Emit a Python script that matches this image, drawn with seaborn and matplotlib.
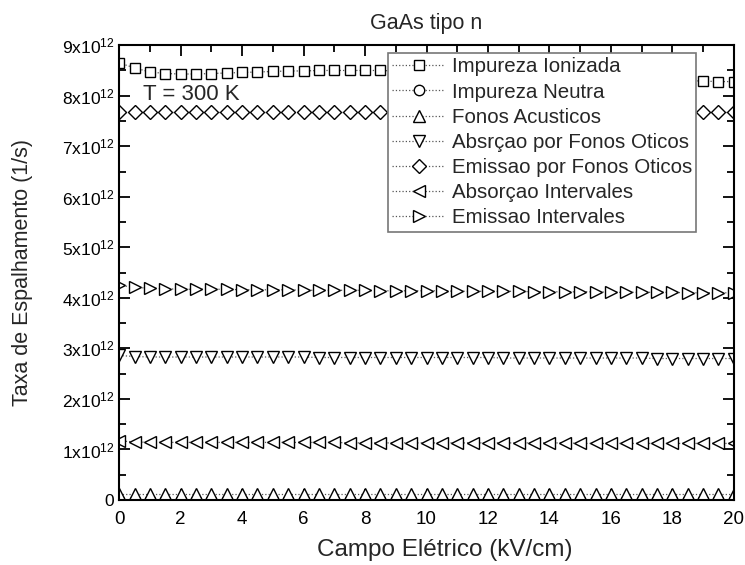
import matplotlib
matplotlib.use("Agg")
import matplotlib.pyplot as plt
import numpy as np
import seaborn as sns
from matplotlib.ticker import FuncFormatter, MultipleLocator

# electric field (kV/cm)
campo = [i * 0.5 for i in range(41)]

# scattering rates, units of 1e12 1/s
imp_ionizada = [8.65, 8.55, 8.47, 8.44, 8.43, 8.43, 8.44, 8.45, 8.46, 8.47,
                8.48, 8.49, 8.49, 8.50, 8.50, 8.50, 8.50, 8.50, 8.49, 8.49,
                8.48, 8.47, 8.46, 8.45, 8.44, 8.43, 8.42, 8.41, 8.40, 8.39,
                8.38, 8.37, 8.36, 8.35, 8.34, 8.33, 8.31, 8.30, 8.29, 8.28, 8.28]
imp_neutra = [0.0] * 41
fonos_acust = [0.11, 0.11, 0.11, 0.11, 0.11, 0.11, 0.11, 0.11, 0.11, 0.11,
               0.11, 0.11, 0.11, 0.11, 0.11, 0.11, 0.11, 0.11, 0.11, 0.11,
               0.11, 0.11, 0.11, 0.11, 0.11, 0.11, 0.11, 0.11, 0.11, 0.11,
               0.11, 0.11, 0.11, 0.11, 0.11, 0.11, 0.11, 0.11, 0.11, 0.11, 0.11]
abs_oticos = [2.86, 2.84, 2.83, 2.83, 2.83, 2.83, 2.83, 2.83, 2.83, 2.83,
              2.83, 2.83, 2.83, 2.82, 2.82, 2.82, 2.82, 2.82, 2.82, 2.82,
              2.82, 2.82, 2.82, 2.82, 2.82, 2.81, 2.81, 2.81, 2.81, 2.81,
              2.81, 2.81, 2.81, 2.81, 2.81, 2.80, 2.80, 2.80, 2.80, 2.80, 2.80]
emi_oticos = [7.68] * 41
abs_interv = [1.17, 1.15, 1.14, 1.14, 1.14, 1.14, 1.14, 1.14, 1.14, 1.14,
              1.14, 1.14, 1.14, 1.14, 1.14, 1.13, 1.13, 1.13, 1.13, 1.13,
              1.13, 1.13, 1.13, 1.13, 1.13, 1.13, 1.13, 1.13, 1.13, 1.13,
              1.12, 1.12, 1.12, 1.12, 1.12, 1.12, 1.12, 1.12, 1.12, 1.12, 1.12]
emi_interv = [4.25, 4.21, 4.19, 4.18, 4.17, 4.17, 4.17, 4.17, 4.16, 4.16,
              4.16, 4.16, 4.15, 4.15, 4.15, 4.15, 4.15, 4.14, 4.14, 4.14,
              4.14, 4.14, 4.13, 4.13, 4.13, 4.13, 4.13, 4.12, 4.12, 4.12,
              4.12, 4.12, 4.11, 4.11, 4.11, 4.11, 4.11, 4.10, 4.10, 4.10, 4.10]

series = [
    ("Impureza Ionizada", imp_ionizada, "s", 7),
    ("Impureza Neutra", imp_neutra, "o", 7.5),
    ("Fonos Acusticos", fonos_acust, "^", 9),
    ("Absrçao por Fonos Oticos", abs_oticos, "v", 9),
    ("Emissao por Fonos Oticos", emi_oticos, "D", 7),
    ("Absorçao Intervales", abs_interv, "<", 9),
    ("Emissao Intervales", emi_interv, ">", 9),
]

sns.set_style("ticks")
plt.rcParams["font.family"] = ["Liberation Sans", "DejaVu Sans"]
plt.rcParams["mathtext.fontset"] = "custom"
plt.rcParams["mathtext.rm"] = "Liberation Sans"

fig = plt.figure(figsize=(7.45, 5.65), dpi=100)
ax = fig.add_axes([0.160, 0.115, 0.825, 0.805])

for name, vals, mk, ms in series:
    sns.lineplot(x=campo, y=np.array(vals) * 1e12, ax=ax, label=name,
                 color="#555555", linestyle=":", linewidth=0.9,
                 marker=mk, markersize=ms, markerfacecolor="white",
                 markeredgecolor="black", markeredgewidth=1.0)

ax.set_xlim(0, 20)
ax.set_ylim(0, 9e12)
ax.xaxis.set_major_locator(MultipleLocator(2))
ax.xaxis.set_minor_locator(MultipleLocator(1))
ax.yaxis.set_major_locator(MultipleLocator(1e12))
ax.yaxis.set_minor_locator(MultipleLocator(0.5e12))


def fmt_y(v, pos):
    k = int(round(v / 1e12))
    if k == 0:
        return "0"
    return r"$\mathregular{%dx10^{12}}$" % k


ax.yaxis.set_major_formatter(FuncFormatter(fmt_y))
ax.tick_params(which="both", direction="in", top=True, right=True,
               width=1.3, colors="black")
ax.tick_params(axis="y", labelsize=12.5)
ax.tick_params(axis="x", labelsize=13.5, pad=8)
ax.tick_params(which="major", length=8)
ax.tick_params(which="minor", length=5)
for sp in ax.spines.values():
    sp.set_linewidth(1.5)
    sp.set_color("black")

ax.set_xlabel("Campo Elétrico (kV/cm)", fontsize=17.5)
ax.xaxis.set_label_coords(0.53, -0.086)
ax.set_ylabel("Taxa de Espalhamento (1/s)", fontsize=15.5)
ax.yaxis.set_label_coords(-0.14, 0.5)
ax.set_title("GaAs tipo n", fontsize=15.5, pad=12)
ax.text(0.039, 0.892, "T = 300 K", transform=ax.transAxes, fontsize=16,
        va="center")

leg = ax.legend(loc="upper left", bbox_to_anchor=(0.437, 0.982),
                borderaxespad=0, fancybox=False, framealpha=1,
                edgecolor="#777777", fontsize=14.8, handlelength=2.6,
                handletextpad=0.3, labelspacing=0.3, borderpad=0.2)
leg.get_frame().set_linewidth(1.2)

fig.savefig("out.png", dpi=100)
